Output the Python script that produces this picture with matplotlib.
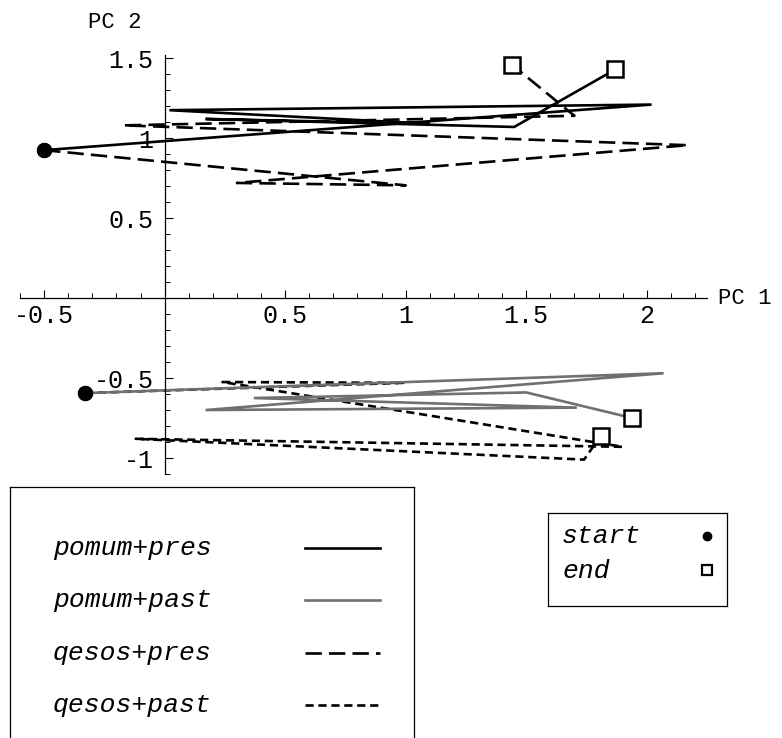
import numpy as np
import matplotlib
matplotlib.use("Agg")
import matplotlib.pyplot as plt
from matplotlib.ticker import MultipleLocator, FixedLocator, FixedFormatter

# trajectories in PC space
pomum_pres_x = [-0.50, 2.02, 0.02, 1.10, 0.17, 1.45, 1.87]
pomum_pres_y = [0.925, 1.21, 1.175, 1.09, 1.12, 1.07, 1.43]

pomum_past_x = [-0.33, 2.07, 0.17, 1.71, 0.37, 1.50, 1.94]
pomum_past_y = [-0.594, -0.47, -0.70, -0.685, -0.625, -0.59, -0.75]

qesos_pres_x = [-0.50, 1.00, 0.30, 2.17, -0.17, 1.70, 1.44]
qesos_pres_y = [0.925, 0.705, 0.72, 0.956, 1.08, 1.14, 1.46]

qesos_past_x = [-0.33, 0.99, 0.24, 1.90, -0.12, 1.74, 1.81]
qesos_past_y = [-0.594, -0.53, -0.525, -0.93, -0.88, -1.01, -0.86]

series_names = ["pomum+pres", "pomum+past", "qesos+pres", "qesos+past"]

xtick_vals = [-0.5, 0.5, 1, 1.5, 2]
xtick_labels = ["-0.5", "0.5", "1", "1.5", "2"]
ytick_vals = [-1, -0.5, 0.5, 1, 1.5]
ytick_labels = ["-1", "-0.5", "0.5", "1", "1.5"]

mono = "Liberation Mono"
gray = "#707070"
lw = 1.9
styles = {
    "pomum+pres": dict(color="black", ls="-"),
    "pomum+past": dict(color=gray, ls="-"),
    "qesos+pres": dict(color="black", ls=(0, (6.2, 2.7))),
    "qesos+past": dict(color="black", ls=(0, (3.1, 1.8))),
}
data = {
    "pomum+pres": (pomum_pres_x, pomum_pres_y),
    "pomum+past": (pomum_past_x, pomum_past_y),
    "qesos+pres": (qesos_pres_x, qesos_pres_y),
    "qesos+past": (qesos_past_x, qesos_past_y),
}

fig = plt.figure(figsize=(7.82, 7.38), dpi=100)
ax = fig.add_axes([20/782, 264/738, 687/782, 419/738])
ax.set_xlim(-0.6, 2.25)
ax.set_ylim(-1.1, 1.52)

# draw dotted one first so the grey line sits on top of it
order = ["qesos+past", "qesos+pres", "pomum+past", "pomum+pres"]
for name in order:
    xs, ys = data[name]
    ax.plot(xs, ys, lw=lw, solid_joinstyle="miter", **styles[name])
for name in order:
    xs, ys = data[name]
    ax.plot(xs[0], ys[0], "o", color="black", ms=10, zorder=5)
    ax.plot(xs[-1], ys[-1], "s", mfc="white", mec="black", ms=11, mew=1.8, zorder=5)

# axes through the origin, mathematica style
for s in ["top", "right"]:
    ax.spines[s].set_visible(False)
ax.spines["left"].set_position(("data", 0))
ax.spines["bottom"].set_position(("data", 0))
ax.spines["left"].set_linewidth(0.9)
ax.spines["bottom"].set_linewidth(0.9)

ax.xaxis.set_major_locator(FixedLocator(xtick_vals))
ax.xaxis.set_major_formatter(FixedFormatter(xtick_labels))
ax.yaxis.set_major_locator(FixedLocator(ytick_vals))
ax.yaxis.set_major_formatter(FixedFormatter(ytick_labels))
ax.xaxis.set_minor_locator(MultipleLocator(0.1))
ax.yaxis.set_minor_locator(MultipleLocator(0.1))
ax.tick_params(which="major", direction="in", length=6, width=0.8, labelsize=18)
ax.tick_params(which="minor", direction="in", length=3.5, width=0.7)
ax.tick_params(axis="y", pad=8)
ax.tick_params(axis="x", pad=4)
for lab in ax.get_xticklabels() + ax.get_yticklabels():
    lab.set_family(mono)
ax.patch.set_visible(False)

fig.text(115/782, 1 - 22/738, "PC 2", family=mono, fontsize=16, ha="center", va="center")
fig.text(718/782, 1 - 298/738, "PC 1", family=mono, fontsize=16, ha="left", va="center")

# legend for line styles
lg = fig.add_axes([10/782, -0.02, 404/782, (738 - 487)/738 + 0.02])
lg.set_xlim(0, 404)
lg.set_ylim(738 + 0.02*738, 487)
lg.set_xticks([])
lg.set_yticks([])
for s in lg.spines.values():
    s.set_linewidth(0.9)
for i, name in enumerate(series_names):
    yy = 548 + i*52.3
    lg.text(43, yy, name, family=mono, style="italic", fontsize=19, va="center", ha="left")
    lg.plot([295, 370], [yy, yy], lw=lw, **styles[name])

# legend for markers
mk = fig.add_axes([548/782, (738 - 606)/738, 179/782, 93/738])
mk.set_xlim(548, 727)
mk.set_ylim(606, 513)
mk.set_xticks([])
mk.set_yticks([])
for s in mk.spines.values():
    s.set_linewidth(0.9)
mk.text(562, 536, "start", family=mono, style="italic", fontsize=19, va="center")
mk.text(562, 571, "end", family=mono, style="italic", fontsize=19, va="center")
mk.plot(707, 536, "o", color="black", ms=6)
mk.plot(707, 570, "s", mfc="white", mec="black", ms=7, mew=1.6)

fig.savefig("out.png", dpi=100)
